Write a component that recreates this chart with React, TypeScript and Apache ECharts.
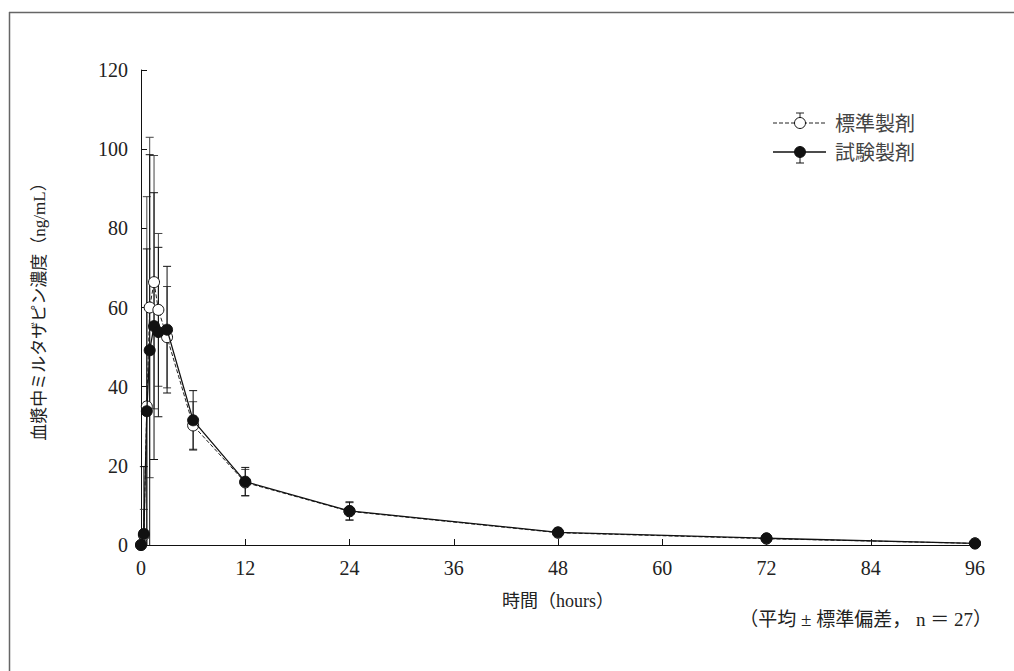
import React, { useEffect, useRef } from "react";
import * as echarts from "echarts";

const times = [0, 0.33, 0.67, 1, 1.5, 2, 3, 6, 12, 24, 48, 72, 96];
const refMean = [0, 2.5, 35, 60, 66.4, 59.4, 52.5, 30.2, 15.8, 8.5, 3.1, 1.6, 0.4];
const refSD = [0, 6.5, 53, 43, 32, 19.3, 12.8, 6, 3.3, 2.2, 1.0, 0.6, 0.3];
const testMean = [0, 2.8, 33.8, 49.2, 55.3, 53.8, 54.4, 31.5, 16, 8.6, 3.2, 1.7, 0.4];
const testSD = [0, 17, 41, 49.4, 33.7, 21.4, 16, 7.5, 3.6, 2.3, 1.0, 0.6, 0.3];
const xTicks = [0, 12, 24, 36, 48, 60, 72, 84, 96];
const refName = "標準製剤";
const testName = "試験製剤";
const xTitle = "時間（hours）";
const yTitle = "血漿中ミルタザピン濃度（ng/mL）";
const footnote = "（平均 ± 標準偏差， n ＝ 27）";

const SERIF = '"Liberation Serif", "Noto Sans CJK JP", serif';

function errData(mean: number[], sd: number[]) {
  return times.map((t, i) => [t, Math.max(0, mean[i] - sd[i]), mean[i] + sd[i], sd[i]]);
}

function errRender(color: string) {
  return (params: any, api: any) => {
    const x = api.value(0);
    const lo = api.value(1);
    const hi = api.value(2);
    const sd = api.value(3);
    if (!sd) return { type: "group", children: [] };
    const p1 = api.coord([x, hi]);
    const p2 = api.coord([x, lo]);
    const w = 4;
    const style = { stroke: color, lineWidth: 1 };
    const children: any[] = [
      { type: "line", shape: { x1: p1[0], y1: p1[1], x2: p2[0], y2: p2[1] }, style },
      { type: "line", shape: { x1: p1[0] - w, y1: p1[1], x2: p1[0] + w, y2: p1[1] }, style },
    ];
    if (lo > 0) {
      children.push({ type: "line", shape: { x1: p2[0] - w, y1: p2[1], x2: p2[0] + w, y2: p2[1] }, style });
    }
    return { type: "group", children };
  };
}

export default function App() {
  const ref = useRef<HTMLDivElement>(null);
  useEffect(() => {
    if (!ref.current) return;
    const chart = echarts.init(ref.current, undefined, { renderer: "svg" });
    const refPts = times.map((t, i) => [t, refMean[i]]);
    const testPts = times.map((t, i) => [t, testMean[i]]);
    const option: any = {
      animation: false,
      backgroundColor: "#ffffff",
      grid: { left: 141, top: 70, right: 39, bottom: 126 },
      xAxis: {
        type: "value",
        min: 0,
        max: 96,
        interval: 12,
        name: xTitle,
        nameLocation: "middle",
        nameGap: 47,
        nameTextStyle: { fontFamily: SERIF, fontSize: 18, color: "#222" },
        axisLine: { onZero: false, lineStyle: { color: "#111", width: 1 } },
        axisTick: { inside: true, length: 6, lineStyle: { color: "#111" } },
        axisLabel: { margin: 13, fontFamily: SERIF, fontSize: 20, color: "#222",
          formatter: (v: number) => (xTicks.indexOf(v) >= 0 ? String(v) : "") },
        splitLine: { show: false },
      },
      yAxis: {
        type: "value",
        min: 0,
        max: 120,
        interval: 20,
        name: yTitle,
        nameLocation: "middle",
        nameGap: 93,
        nameTextStyle: { fontFamily: SERIF, fontSize: 17, color: "#222" },
        axisLine: { show: true, lineStyle: { color: "#111", width: 1 } },
        axisTick: { show: true, inside: true, length: 6, lineStyle: { color: "#111" } },
        axisLabel: { margin: 13, fontFamily: SERIF, fontSize: 20, color: "#222" },
        splitLine: { show: false },
      },
      series: [
        {
          type: "custom",
          name: refName + "SD",
          renderItem: errRender("#444"),
          data: errData(refMean, refSD),
          encode: { x: 0, y: [1, 2] },
          z: 1,
        },
        {
          type: "custom",
          name: testName + "SD",
          renderItem: errRender("#111"),
          data: errData(testMean, testSD),
          encode: { x: 0, y: [1, 2] },
          z: 2,
        },
        {
          type: "line",
          name: refName,
          data: refPts,
          symbol: "circle",
          symbolSize: 11,
          showAllSymbol: true,
          lineStyle: { color: "#222", width: 1, type: [4, 2] },
          itemStyle: { color: "#ffffff", borderColor: "#111", borderWidth: 1 },
          z: 3,
        },
        {
          type: "line",
          name: testName,
          data: testPts,
          symbol: "circle",
          symbolSize: 11,
          showAllSymbol: true,
          lineStyle: { color: "#111", width: 1.3 },
          itemStyle: { color: "#111", borderColor: "#111", borderWidth: 1 },
          z: 4,
        },
      ],
      graphic: [
        { type: "line", shape: { x1: 9, y1: 12.5, x2: 1014, y2: 12.5 }, style: { stroke: "#666", lineWidth: 1.5 } },
        { type: "line", shape: { x1: 9.5, y1: 12, x2: 9.5, y2: 671 }, style: { stroke: "#666", lineWidth: 1.5 } },
        // legend: reference
        { type: "line", shape: { x1: 773, y1: 123, x2: 826, y2: 123 }, style: { stroke: "#222", lineWidth: 1, lineDash: [4, 2] } },
        { type: "line", shape: { x1: 800, y1: 113, x2: 800, y2: 123 }, style: { stroke: "#222", lineWidth: 1 } },
        { type: "line", shape: { x1: 796, y1: 113, x2: 804, y2: 113 }, style: { stroke: "#222", lineWidth: 1 } },
        { type: "circle", shape: { cx: 800, cy: 123, r: 5.5 }, style: { fill: "#fff", stroke: "#111", lineWidth: 1 } },
        { type: "text", x: 835, y: 124, style: { text: refName, fontFamily: SERIF, fontSize: 20, fill: "#444", textVerticalAlign: "middle", verticalAlign: "middle" } },
        // legend: test
        { type: "line", shape: { x1: 773, y1: 152, x2: 826, y2: 152 }, style: { stroke: "#111", lineWidth: 1.3 } },
        { type: "line", shape: { x1: 800, y1: 152, x2: 800, y2: 163 }, style: { stroke: "#111", lineWidth: 1 } },
        { type: "line", shape: { x1: 796, y1: 163, x2: 804, y2: 163 }, style: { stroke: "#111", lineWidth: 1 } },
        { type: "circle", shape: { cx: 800, cy: 152, r: 5.5 }, style: { fill: "#111", stroke: "#111", lineWidth: 1 } },
        { type: "text", x: 835, y: 153, style: { text: testName, fontFamily: SERIF, fontSize: 20, fill: "#444", textVerticalAlign: "middle", verticalAlign: "middle" } },
        // footnote
        { type: "text", right: 22, top: 610, style: { text: footnote, fontFamily: SERIF, fontSize: 19, fill: "#222" } },
      ],
    };
    chart.setOption(option);
    return () => chart.dispose();
  }, []);
  return <div ref={ref} style={{ position: "fixed", left: 0, top: 0, width: 1014, height: 671, background: "#fff" }} />;
}
